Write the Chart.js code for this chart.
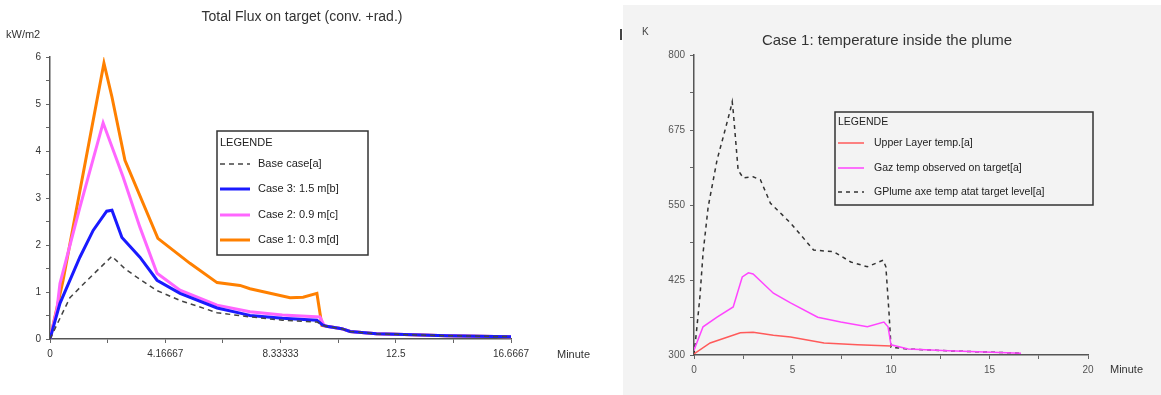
<!DOCTYPE html>
<html>
<head>
<meta charset="utf-8">
<script src="https://cdn.jsdelivr.net/npm/chart.js@4/dist/chart.umd.min.js"></script>
<style>
  html, body { margin: 0; padding: 0; background: #fff; width: 1161px; height: 395px; overflow: hidden; }
  #fluxBox { position: absolute; left: 0; top: 0; width: 600px; height: 395px; }
  #tempBox { position: absolute; left: 623px; top: 5px; width: 538px; height: 390px; background: #f3f3f3; }
  #mark { position: absolute; left: 620px; top: 29px; width: 2px; height: 11px; background: #444; }
</style>
</head>
<body>
<div id="fluxBox"><canvas id="fluxCanvas" width="600" height="395"></canvas></div>
<div id="tempBox"><canvas id="tempCanvas" width="538" height="390"></canvas></div>
<div id="mark"></div>
<script>
// ---- Gauche : flux total sur la cible (kW/m2) en fonction du temps (minutes)
const FLUX_X_TICKS  = [0, 2.08333, 4.16667, 6.25, 8.33333, 10.41667, 12.5, 14.58333, 16.6667];
const FLUX_X_LABELS = ['0', '', '4.16667', '', '8.33333', '', '12.5', '', '16.6667'];
const FLUX_Y_TICKS  = [0, 0.5, 1, 1.5, 2, 2.5, 3, 3.5, 4, 4.5, 5, 5.5, 6];
const FLUX_Y_LABELS = ['0', '', '1', '', '2', '', '3', '', '4', '', '5', '', '6'];

// queue commune après la chute à ~10 min
const TAIL_T = [10.0, 10.55, 10.85, 11.8, 12.5, 14.35, 16.6667];
const TAIL_V = [0.27, 0.22, 0.16, 0.11, 0.10, 0.07, 0.05];

const BASE_T  = [0, 0.72, 1.45, 2.24, 2.7, 3.15, 3.87, 4.7, 6.04, 7.23, 8.4, 9.65, 9.85];
const BASE_V  = [0, 0.88, 1.31, 1.76, 1.5, 1.31, 1.03, 0.82, 0.56, 0.47, 0.40, 0.36, 0.30];
const CASE3_T = [0, 0.36, 1.08, 1.56, 2.05, 2.24, 2.6, 3.25, 3.87, 4.7, 6.04, 6.87, 7.23, 8.4, 9.65, 9.85];
const CASE3_V = [0, 0.76, 1.74, 2.31, 2.72, 2.74, 2.16, 1.74, 1.25, 0.97, 0.66, 0.55, 0.50, 0.44, 0.40, 0.30];
const CASE2_T = [0, 0.25, 0.36, 1.08, 1.92, 2.64, 3.25, 3.87, 4.7, 6.04, 7.23, 8.4, 9.76, 9.9];
const CASE2_V = [0, 0.63, 1.18, 2.8, 4.6, 3.45, 2.38, 1.40, 1.04, 0.72, 0.58, 0.51, 0.47, 0.30];
const CASE1_T = [0, 0.47, 1.95, 2.24, 2.71, 3.9, 5.06, 6.04, 6.87, 7.23, 8.68, 9.15, 9.65, 9.83];
const CASE1_V = [0, 1.24, 5.87, 5.15, 3.8, 2.14, 1.61, 1.20, 1.14, 1.07, 0.88, 0.89, 0.97, 0.29];

// ---- Droite : températures dans le panache (K)
const TEMP_X_TICKS  = [0, 2.5, 5, 7.5, 10, 12.5, 15, 17.5, 20];
const TEMP_X_LABELS = ['0', '', '5', '', '10', '', '15', '', '20'];
const TEMP_Y_TICKS  = [300, 362.5, 425, 487.5, 550, 612.5, 675, 737.5, 800];
const TEMP_Y_LABELS = ['300', '', '425', '', '550', '', '675', '', '800'];

const UPPER_T  = [0, 0.82, 2.35, 3.0, 4.03, 4.9, 6.6, 8.3, 10.0];
const UPPER_V  = [302, 320, 337, 338, 333, 330, 320, 317, 315];
const GAZ_T    = [0, 0.46, 1.17, 1.99, 2.2, 2.45, 2.76, 3.0, 4.03, 4.9, 6.28, 7.45, 8.8, 9.64, 9.85, 10.0, 10.87, 12.9, 16.6];
const GAZ_V    = [308, 347, 363, 380, 403, 430, 437, 435, 403, 387, 363, 355, 347, 355, 347, 317, 310, 307, 303];
const PLUME_T  = [0, 0.15, 0.3, 0.46, 0.72, 1.17, 1.48, 1.84, 1.94, 2.0, 2.24, 2.5, 3.0, 3.37, 3.88, 4.9, 6.07, 7.1, 7.96, 8.8, 9.6, 9.74, 9.9, 10.0, 10.87, 12.9, 16.6];
const PLUME_V  = [300, 347, 397, 470, 547, 625, 663, 708, 722, 703, 608, 595, 597, 592, 553, 520, 475, 472, 455, 447, 458, 447, 370, 313, 310, 307, 303];

const FONT = "'Liberation Sans', Arial, sans-serif";

function pts(t, v) { return t.map((x, i) => ({ x: x, y: v[i] })); }

// Textes libres + cadre LEGENDE dessinés par-dessus le graphe
const annotPlugin = {
  id: 'annot',
  afterDraw(chart, args, opts) {
    const ctx = chart.ctx;
    ctx.save();
    (opts.texts || []).forEach(t => {
      ctx.font = t.font;
      ctx.fillStyle = t.color || '#222';
      ctx.textAlign = t.align || 'left';
      ctx.textBaseline = 'middle';
      ctx.fillText(t.text, t.x, t.y);
    });
    const L = opts.legend;
    if (L) {
      ctx.fillStyle = L.fill;
      ctx.fillRect(L.x, L.y, L.w, L.h);
      ctx.strokeStyle = '#333';
      ctx.lineWidth = 1.5;
      ctx.strokeRect(L.x, L.y, L.w, L.h);
      ctx.font = L.font;
      ctx.fillStyle = '#222';
      ctx.textAlign = 'left';
      ctx.textBaseline = 'middle';
      ctx.fillText('LEGENDE', L.x + 3, L.titleY);
      chart.data.datasets.forEach((ds, i) => {
        const y = L.rows[i];
        ctx.strokeStyle = ds.borderColor;
        ctx.lineWidth = ds.borderWidth;
        ctx.setLineDash(ds.borderDash || []);
        ctx.beginPath();
        ctx.moveTo(L.x + 3, y);
        ctx.lineTo(L.x + 3 + L.sample, y);
        ctx.stroke();
        ctx.setLineDash([]);
        ctx.fillStyle = '#222';
        ctx.fillText(ds.label, L.textX, y);
      });
    }
    ctx.restore();
  }
};

function axis(min, max, ticks, labels, size, color, isY) {
  return {
    type: 'linear', min: min, max: max,
    afterBuildTicks: s => { s.ticks = ticks.map(v => ({ value: v })); },
    afterFit: s => { if (isY) s.width = size; else s.height = size; },
    ticks: {
      autoSkip: false, maxRotation: 0, padding: 5,
      color: color, font: { family: FONT, size: 10 },
      callback: (v, i) => labels[i]
    },
    grid: { display: true, drawOnChartArea: false, drawTicks: true, tickLength: 4, color: '#666', lineWidth: 1 },
    border: { display: true, color: '#555', width: 1.5 }
  };
}

new Chart(document.getElementById('fluxCanvas'), {
  type: 'line',
  data: {
    datasets: [
      { label: 'Base case[a]',      data: pts(BASE_T.concat(TAIL_T),  BASE_V.concat(TAIL_V)),  borderColor: '#444',    borderWidth: 1.5, borderDash: [5, 4] },
      { label: 'Case 3: 1.5 m[b]',  data: pts(CASE3_T.concat(TAIL_T), CASE3_V.concat(TAIL_V)), borderColor: '#1a1aff', borderWidth: 3 },
      { label: 'Case 2: 0.9 m[c]',  data: pts(CASE2_T.concat(TAIL_T), CASE2_V.concat(TAIL_V)), borderColor: '#ff66ff', borderWidth: 3 },
      { label: 'Case 1: 0.3 m[d]',  data: pts(CASE1_T.concat(TAIL_T), CASE1_V.concat(TAIL_V)), borderColor: '#ff8000', borderWidth: 3 },
    ]
  },
  options: {
    responsive: false,
    animation: false,
    parsing: false,
    elements: { point: { radius: 0 }, line: { tension: 0 } },
    layout: { padding: { left: 0, top: 57, right: 89, bottom: 0 } },
    scales: {
      x: axis(0, 16.6667, FLUX_X_TICKS, FLUX_X_LABELS, 56, '#333', false),
      y: axis(0, 6, FLUX_Y_TICKS, FLUX_Y_LABELS, 50, '#333', true)
    },
    plugins: {
      legend: { display: false },
      tooltip: { enabled: false },
      annot: {
        texts: [
          { text: 'Total Flux on target (conv. +rad.)', x: 302, y: 17, font: '14px ' + FONT, align: 'center', color: '#333' },
          { text: 'kW/m2', x: 6, y: 35, font: '11px ' + FONT, color: '#333' },
          { text: 'Minute', x: 557, y: 355, font: '11px ' + FONT, color: '#333' }
        ],
        legend: { x: 217, y: 131, w: 151, h: 124, titleY: 143, rows: [164, 189, 215, 240], sample: 30, textX: 258, fill: '#fff', font: '11px ' + FONT }
      }
    }
  },
  plugins: [annotPlugin]
});

new Chart(document.getElementById('tempCanvas'), {
  type: 'line',
  data: {
    datasets: [
      { label: 'Upper Layer temp.[a]',                 data: pts(UPPER_T, UPPER_V), borderColor: '#ff5a5a', borderWidth: 1.5 },
      { label: 'Gaz temp observed on target[a]',       data: pts(GAZ_T, GAZ_V),     borderColor: '#ff44ff', borderWidth: 1.5 },
      { label: 'GPlume axe temp atat target level[a]', data: pts(PLUME_T, PLUME_V), borderColor: '#333',    borderWidth: 1.5, borderDash: [4, 4] },
    ]
  },
  options: {
    responsive: false,
    animation: false,
    parsing: false,
    elements: { point: { radius: 0 }, line: { tension: 0 } },
    layout: { padding: { left: 0, top: 50, right: 73, bottom: 0 } },
    scales: {
      x: axis(0, 20, TEMP_X_TICKS, TEMP_X_LABELS, 40, '#555', false),
      y: axis(300, 800, TEMP_Y_TICKS, TEMP_Y_LABELS, 71, '#555', true)
    },
    plugins: {
      legend: { display: false },
      tooltip: { enabled: false },
      annot: {
        texts: [
          { text: 'Case 1: temperature inside the plume', x: 264, y: 36, font: '15px ' + FONT, align: 'center', color: '#333' },
          { text: 'K', x: 19, y: 27, font: '10px ' + FONT, color: '#444' },
          { text: 'Minute', x: 487, y: 365, font: '11px ' + FONT, color: '#333' }
        ],
        legend: { x: 212, y: 107, w: 258, h: 93, titleY: 117, rows: [138, 163, 187], sample: 26, textX: 251, fill: '#f3f3f3', font: '10.5px ' + FONT }
      }
    }
  },
  plugins: [annotPlugin]
});
</script>
</body>
</html>
